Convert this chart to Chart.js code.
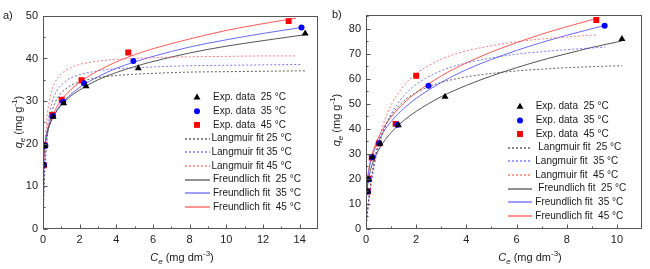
<!DOCTYPE html>
<html><head><meta charset="utf-8">
<script src="https://cdn.jsdelivr.net/npm/chart.js@4/dist/chart.umd.min.js"></script>
<style>
html,body{margin:0;padding:0;background:#fff;}
#wrap{position:relative;width:650px;height:269px;overflow:hidden;}
canvas{position:absolute;top:0;}
</style></head><body>
<div id="wrap"><canvas id="ca" width="325" height="269" style="left:0"></canvas><canvas id="cb" width="325" height="269" style="left:325px"></canvas></div>
<script>
// ---------- Panel a) data ----------
const aExpC25 = [0.04, 0.10, 0.55, 1.13, 2.35, 5.20, 14.30];
const aExpQ25 = [15.0, 19.4, 26.3, 29.5, 33.5, 37.7, 45.9];
const aExpC35 = [0.05, 0.13, 0.55, 1.10, 2.24, 4.93, 14.10];
const aExpQ35 = [15.0, 19.5, 26.5, 29.8, 34.2, 39.4, 47.3];
const aExpC45 = [0.04, 0.09, 0.50, 1.02, 2.10, 4.65, 13.40];
const aExpQ45 = [14.9, 19.6, 26.7, 30.3, 34.9, 41.4, 48.8];

const aLangC25 = [0.02, 0.05, 0.1, 0.2, 0.3, 0.5, 0.75, 1, 1.5, 2, 3, 4, 5, 6, 8, 10, 12, 14.3];
const aLangQ25 = [3.8, 8.2, 13.5, 19.9, 23.6, 27.7, 30.4, 31.9, 33.6, 34.5, 35.5, 36.0, 36.3, 36.5, 36.8, 36.9, 37.0, 37.1];
const aLangC35 = [0.02, 0.05, 0.1, 0.2, 0.3, 0.5, 0.75, 1, 1.5, 2, 3, 4, 5, 6, 8, 10, 12, 14.1];
const aLangQ35 = [4.5, 9.6, 15.4, 22.0, 25.8, 29.8, 32.4, 33.8, 35.4, 36.2, 37.1, 37.6, 37.8, 38.0, 38.3, 38.4, 38.5, 38.6];
const aLangC45 = [0.02, 0.05, 0.1, 0.2, 0.3, 0.5, 0.75, 1, 1.5, 2, 3, 4, 5, 6, 8, 10, 12, 13.8];
const aLangQ45 = [5.7, 11.7, 18.2, 25.2, 28.9, 32.8, 35.1, 36.4, 37.8, 38.6, 39.4, 39.8, 40.0, 40.2, 40.4, 40.5, 40.6, 40.6];

const aFreuC25 = [0.002, 0.01, 0.03, 0.06, 0.1, 0.2, 0.4, 0.7, 1, 1.5, 2, 3, 4, 5, 6, 8, 10, 12, 14.3];
const aFreuQ25 = [10.1, 13.3, 16.0, 18.0, 19.6, 22.1, 24.8, 27.3, 29.0, 31.1, 32.6, 35.0, 36.7, 38.1, 39.3, 41.3, 42.9, 44.2, 45.6];
const aFreuC35 = [0.002, 0.01, 0.03, 0.06, 0.1, 0.2, 0.4, 0.7, 1, 1.5, 2, 3, 4, 5, 6, 8, 10, 12, 14.1];
const aFreuQ35 = [9.5, 12.7, 15.5, 17.6, 19.3, 21.9, 24.8, 27.5, 29.3, 31.5, 33.2, 35.7, 37.7, 39.2, 40.5, 42.7, 44.4, 45.9, 47.3];
const aFreuC45 = [0.002, 0.01, 0.03, 0.06, 0.1, 0.2, 0.4, 0.7, 1, 1.5, 2, 3, 4, 5, 6, 8, 10, 12, 13.8];
const aFreuQ45 = [9.4, 12.7, 15.6, 17.8, 19.6, 22.3, 25.4, 28.2, 30.2, 32.6, 34.4, 37.1, 39.2, 40.9, 42.3, 44.6, 46.6, 48.2, 49.5];

const aXTicks = [0, 2, 4, 6, 8, 10, 12, 14];
const aXMinor = [1, 3, 5, 7, 9, 11, 13];
const aYTicks = [0, 10, 20, 30, 40, 50];
const aYMinor = [5, 15, 25, 35, 45];

// ---------- Panel b) data ----------
const bExpC25 = [0.07, 0.10, 0.25, 0.56, 1.29, 3.15, 10.20];
const bExpQ25 = [14.8, 19.6, 28.5, 33.9, 41.3, 52.8, 75.9];
const bExpC35 = [0.07, 0.10, 0.25, 0.53, 1.25, 2.49, 9.51];
const bExpQ35 = [14.8, 19.6, 28.5, 34.1, 41.5, 57.2, 81.2];
const bExpC45 = [0.07, 0.09, 0.23, 0.51, 1.18, 2.00, 9.18];
const bExpQ45 = [14.8, 19.9, 28.4, 34.1, 41.9, 61.2, 83.5];

const bLangC25 = [0.01, 0.03, 0.06, 0.1, 0.2, 0.35, 0.5, 0.75, 1, 1.5, 2, 3, 4, 5, 6, 7, 8, 9, 10.2];
const bLangQ25 = [1.3, 3.8, 7.1, 11.1, 19.1, 27.7, 33.7, 40.6, 45.2, 51.0, 54.5, 58.5, 60.7, 62.1, 63.1, 63.8, 64.4, 64.8, 65.2];
const bLangC35 = [0.01, 0.03, 0.06, 0.1, 0.2, 0.35, 0.5, 0.75, 1, 1.5, 2, 3, 4, 5, 6, 7, 8, 9, 9.53];
const bLangQ35 = [1.1, 3.2, 6.2, 9.8, 17.3, 26.0, 32.5, 40.3, 45.8, 53.1, 57.7, 63.2, 66.3, 68.3, 69.8, 70.8, 71.6, 72.3, 72.6];
const bLangC45 = [0.01, 0.03, 0.06, 0.1, 0.2, 0.35, 0.5, 0.75, 1, 1.5, 2, 3, 4, 5, 6, 7, 8, 9, 9.17];
const bLangQ45 = [1.2, 3.5, 6.7, 10.6, 18.8, 28.1, 35.1, 43.5, 49.4, 57.1, 62.0, 67.8, 71.1, 73.2, 74.8, 75.9, 76.7, 77.4, 77.5];

const bFreuC25 = [0.002, 0.01, 0.03, 0.06, 0.1, 0.2, 0.4, 0.7, 1, 1.5, 2, 3, 4, 5, 6, 7, 8, 9, 10.2];
const bFreuQ25 = [6.4, 10.1, 13.9, 17.0, 19.7, 24.1, 29.5, 34.6, 38.4, 43.2, 46.9, 52.8, 57.3, 61.1, 64.4, 67.4, 70.0, 72.5, 75.1];
const bFreuC35 = [0.002, 0.01, 0.03, 0.06, 0.1, 0.2, 0.4, 0.7, 1, 1.5, 2, 3, 4, 5, 6, 7, 8, 9, 9.51];
const bFreuQ35 = [7.3, 11.5, 15.8, 19.2, 22.2, 27.1, 33.0, 38.7, 42.8, 48.0, 52.1, 58.5, 63.6, 67.7, 71.3, 74.5, 77.4, 80.0, 81.3];
const bFreuC45 = [0.002, 0.01, 0.03, 0.06, 0.1, 0.2, 0.4, 0.7, 1, 1.5, 2, 3, 4, 5, 6, 7, 8, 9, 9.17];
const bFreuQ45 = [7.5, 12.0, 16.4, 19.9, 23.1, 28.1, 34.3, 40.3, 44.6, 50.1, 54.4, 61.1, 66.3, 70.7, 74.4, 77.8, 80.8, 83.6, 84.1];

const bXTicks = [0, 2, 4, 6, 8, 10];
const bXMinor = [1, 3, 5, 7, 9];
const bYTicks = [0, 10, 20, 30, 40, 50, 60, 70, 80];
const bYMinor = [5, 15, 25, 35, 45, 55, 65, 75, 85];

// ---------- labels ----------
const legendLabelsA = ['Exp. data  25 \u00B0C', 'Exp. data  35 \u00B0C', 'Exp. data  45 \u00B0C',
  'Langmuir fit 25 \u00B0C', 'Langmuir fit 35 \u00B0C', 'Langmuir fit 45 \u00B0C',
  'Freundlich fit  25 \u00B0C', 'Freundlich fit  35 \u00B0C', 'Freundlich fit  45 \u00B0C'];
const legendLabelsB = ['Exp. data  25 \u00B0C', 'Exp. data  35 \u00B0C', 'Exp. data  45 \u00B0C',
  'Langmuir fit  25 \u00B0C', 'Langmuir fit  35 \u00B0C', 'Langmuir fit  45 \u00B0C',
  'Freundlich fit  25 \u00B0C', 'Freundlich fit  35 \u00B0C', 'Freundlich fit  45 \u00B0C'];
const xTitleParts = [{t: 'C', i: 1}, {t: 'e', i: 1, sub: 1}, {t: ' (mg dm'}, {t: '-3', sup: 1}, {t: ')'}];
const yTitleParts = [{t: 'q', i: 1}, {t: 'e', i: 1, sub: 1}, {t: ' (mg g'}, {t: '-1', sup: 1}, {t: ')'}];

const FONT = 'Arial, "Liberation Sans", sans-serif';
Chart.defaults.font.family = FONT;

const pts = (xs, ys) => xs.map((x, i) => ({x: x, y: ys[i]}));

function buildDatasets(labels, e25, e35, e45, l25, l35, l45, f25, f35, f45) {
  const exp = (lab, d, style, r, col) => ({label: lab, data: d, showLine: false, pointStyle: style, pointRadius: r,
    pointHoverRadius: r, backgroundColor: col, borderColor: col, pointBorderWidth: 0, borderWidth: 0});
  const fit = (lab, d, col, dash) => ({label: lab, data: d, showLine: true, pointRadius: 0, pointHoverRadius: 0,
    borderColor: col, backgroundColor: col, borderWidth: 1, borderDash: dash, cubicInterpolationMode: 'monotone', fill: false});
  return [
    exp(labels[0], e25, 'triangle', 4, '#000000'),
    exp(labels[1], e35, 'circle', 3, '#0000ff'),
    exp(labels[2], e45, 'rect', 4.2, '#ff0000'),
    fit(labels[3], l25, 'rgba(70,70,70,0.85)', [2, 2]),
    fit(labels[4], l35, 'rgba(90,90,255,0.8)', [2, 2]),
    fit(labels[5], l45, 'rgba(255,90,90,0.8)', [2, 2]),
    fit(labels[6], f25, '#555555', []),
    fit(labels[7], f35, '#6a6aff', []),
    fit(labels[8], f45, '#ff5a5a', [])
  ];
}

function drawRich(ctx, parts, cx, cy, size, rot) {
  ctx.save();
  ctx.translate(cx, cy);
  if (rot) ctx.rotate(rot);
  const fontOf = p => (p.i ? 'italic ' : '') + (p.sub || p.sup ? Math.round(size * 0.7) : size) + 'px ' + FONT;
  let w = 0;
  parts.forEach(p => { ctx.font = fontOf(p); p.w = ctx.measureText(p.t).width; w += p.w; });
  let x = -w / 2;
  ctx.textBaseline = 'middle';
  ctx.textAlign = 'left';
  ctx.fillStyle = '#222';
  parts.forEach(p => {
    ctx.font = fontOf(p);
    const dy = p.sub ? size * 0.3 : (p.sup ? -size * 0.35 : 0);
    ctx.fillText(p.t, x, dy);
    x += p.w;
  });
  ctx.restore();
}

const framePlugin = {
  id: 'frame',
  afterDraw(chart, args, o) {
    const {ctx, chartArea: a, scales: {x, y}} = chart;
    ctx.save();
    ctx.strokeStyle = '#555';
    ctx.lineWidth = 1;
    const L = Math.round(a.left) + 0.5, R = Math.round(a.right) - 0.5, T = Math.round(a.top) + 0.5, B = Math.round(a.bottom) - 0.5;
    ctx.strokeRect(L, T, R - L, B - T);
    ctx.beginPath();
    o.xTicks.forEach(v => { const p = Math.round(x.getPixelForValue(v)) + 0.5; ctx.moveTo(p, B); ctx.lineTo(p, B - 4); });
    o.xMinor.forEach(v => { const p = Math.round(x.getPixelForValue(v)) + 0.5; ctx.moveTo(p, B); ctx.lineTo(p, B - 2); });
    o.yTicks.forEach(v => { const p = Math.round(y.getPixelForValue(v)) + 0.5; ctx.moveTo(L, p); ctx.lineTo(L + 4, p); });
    o.yMinor.forEach(v => { const p = Math.round(y.getPixelForValue(v)) + 0.5; ctx.moveTo(L, p); ctx.lineTo(L + 2, p); });
    ctx.stroke();
    ctx.restore();
    drawRich(ctx, xTitleParts, o.xTitle[0], o.xTitle[1], 11, 0);
    drawRich(ctx, yTitleParts, o.yTitle[0], o.yTitle[1], 11, -Math.PI / 2);
    ctx.save();
    ctx.font = '11px ' + FONT;
    ctx.fillStyle = '#222';
    ctx.textBaseline = 'middle';
    ctx.fillText(o.panel, o.panelPos[0], o.panelPos[1]);
    ctx.restore();
  }
};

const legendPlugin = {
  id: 'richLegend',
  afterDraw(chart, args, o) {
    const ctx = chart.ctx;
    ctx.save();
    chart.data.datasets.forEach((ds, i) => {
      const y = o.rows[i];
      if (ds.showLine) {
        ctx.strokeStyle = ds.borderColor;
        ctx.lineWidth = 1.3;
        ctx.setLineDash(ds.borderDash || []);
        ctx.beginPath();
        ctx.moveTo(o.lineX[0], Math.round(y));
        ctx.lineTo(o.lineX[1], Math.round(y));
        ctx.stroke();
        ctx.setLineDash([]);
      } else {
        ctx.fillStyle = ds.backgroundColor;
        ctx.strokeStyle = ds.borderColor;
        Chart.helpers.drawPoint(ctx, {pointStyle: ds.pointStyle, radius: ds.pointRadius, rotation: 0, borderWidth: 0}, o.markerX, y);
      }
      ctx.fillStyle = '#1a1a1a';
      ctx.font = '10px ' + FONT;
      ctx.textBaseline = 'middle';
      ctx.textAlign = 'left';
      ctx.fillText(ds.label, o.textX[i], y);
    });
    ctx.restore();
  }
};

function makeChart(id, cfg) {
  return new Chart(document.getElementById(id), {
    type: 'scatter',
    data: {datasets: cfg.datasets},
    plugins: [framePlugin, legendPlugin],
    options: {
      responsive: false, animation: false, devicePixelRatio: 1,
      events: [],
      layout: {padding: {left: 0, top: cfg.top, right: cfg.right, bottom: 0}},
      plugins: {
        legend: {display: false}, tooltip: {enabled: false},
        frame: cfg.frame,
        richLegend: cfg.legend
      },
      scales: {
        x: {
          type: 'linear', min: 0, max: cfg.xMax,
          grid: {display: false, drawTicks: false}, border: {display: false},
          ticks: {color: '#222', font: {size: 11}, padding: 5, maxRotation: 0},
          afterBuildTicks: s => { s.ticks = cfg.frame.xTicks.map(v => ({value: v})); },
          afterFit: s => { s.height = cfg.xH; }
        },
        y: {
          type: 'linear', min: 0, max: cfg.yMax,
          grid: {display: false, drawTicks: false}, border: {display: false},
          ticks: {color: '#222', font: {size: 11}, padding: 5},
          afterBuildTicks: s => { s.ticks = cfg.frame.yTicks.map(v => ({value: v})); },
          afterFit: s => { s.width = cfg.yW; }
        }
      }
    }
  });
}

makeChart('ca', {
  datasets: buildDatasets(legendLabelsA,
    pts(aExpC25, aExpQ25), pts(aExpC35, aExpQ35), pts(aExpC45, aExpQ45),
    pts(aLangC25, aLangQ25), pts(aLangC35, aLangQ35), pts(aLangC45, aLangQ45),
    pts(aFreuC25, aFreuQ25), pts(aFreuC35, aFreuQ35), pts(aFreuC45, aFreuQ45)),
  top: 16, right: 7, yW: 43, xH: 40.5, xMax: 15, yMax: 50,
  frame: {xTicks: aXTicks, xMinor: aXMinor, yTicks: aYTicks, yMinor: aYMinor,
    xTitle: [182, 258], yTitle: [19, 122], panel: 'a)', panelPos: [3, 16]},
  legend: {markerX: 197, lineX: [185, 210],
    textX: [213, 213, 213, 211.5, 211.5, 211.5, 213, 213, 213],
    rows: [97.5, 111.2, 124.9, 138.6, 152.3, 166, 179.7, 193.4, 207.1]}
});

makeChart('cb', {
  datasets: buildDatasets(legendLabelsB,
    pts(bExpC25, bExpQ25), pts(bExpC35, bExpQ35), pts(bExpC45, bExpQ45),
    pts(bLangC25, bLangQ25), pts(bLangC35, bLangQ35), pts(bLangC45, bLangQ45),
    pts(bFreuC25, bFreuQ25), pts(bFreuC35, bFreuQ35), pts(bFreuC45, bFreuQ45)),
  top: 15, right: 8, yW: 41, xH: 40.5, xMax: 11, yMax: 85.5,
  frame: {xTicks: bXTicks, xMinor: bXMinor, yTicks: bYTicks, yMinor: bYMinor,
    xTitle: [205, 258], yTitle: [12, 120], panel: 'b)', panelPos: [7, 15]},
  legend: {markerX: 195, lineX: [183, 207],
    textX: [210.7, 210.7, 210.7, 213.3, 210.3, 210.3, 213.3, 210.3, 210.3],
    rows: [106.7, 120.4, 134, 147.7, 161.3, 175, 188.6, 202.3, 215.9]}
});
</script>
</body></html>
